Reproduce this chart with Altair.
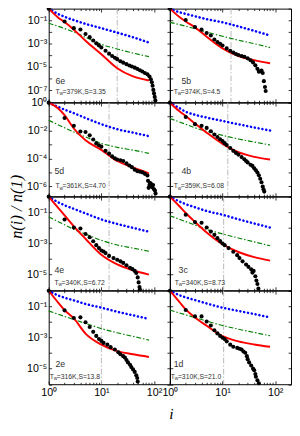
import altair as alt
import pandas as pd

# ---------------- data ----------------
names = ["6e", "5b", "5d", "4b", "4e", "3c", "2e", "1d"]
temps = ["379K", "374K", "361K", "359K", "340K", "340K", "316K", "310K"]
svals = ["3.35", "4.5", "4.70", "6.08", "6.72", "8.73", "13.8", "21.0"]
row_ymin = [1e-8, 2e-7, 1e-6, 1e-6]
row_label_exps = [[-1, -3, -5, -7], [0, -2, -4, -6], [-1, -3, -5], [-1, -3, -5]]
gray_i = [20, 14.5, 14, 12.6, 14, 10.5, 10, 10.5]

model_i = [1, 1.5, 2, 3, 5, 10, 20, 40, 80]
blue_exp = [
    [0, -0.45, -0.7, -0.98, -1.3, -1.67, -2.05, -2.45, -2.9],
    [0, -0.3, -0.45, -0.65, -0.9, -1.17, -1.52, -1.9, -2.3],
    [0, -0.3, -0.5, -0.75, -1.1, -1.54, -1.9, -2.15, -2.4],
    [0, -0.38, -0.65, -0.87, -1.07, -1.31, -1.55, -1.78, -2.0],
    [0, -0.35, -0.55, -0.78, -1.07, -1.46, -1.75, -2.0, -2.25],
    [0, -0.3, -0.48, -0.68, -0.92, -1.16, -1.45, -1.72, -1.98],
    [0, -0.3, -0.45, -0.62, -0.85, -1.09, -1.35, -1.58, -1.81],
    [0, -0.28, -0.43, -0.6, -0.82, -1.09, -1.3, -1.5, -1.71],
]
red_exp = [
    [0, -0.75, -1.15, -1.8, -2.75, -3.9, -5.1, -5.8, -6.15],
    [0, -0.7, -1.1, -1.6, -2.4, -3.4, -4.05, -4.4, -4.67],
    [0, -0.4, -0.9, -1.85, -2.7, -3.38, -4.18, -4.64, -5.06],
    [0, -0.6, -0.95, -1.5, -2.15, -2.95, -3.55, -3.88, -4.07],
    [0, -0.7, -1.2, -1.9, -2.7, -3.73, -4.35, -4.72, -5.0],
    [0, -0.6, -1.05, -1.62, -2.3, -3.05, -3.55, -3.88, -4.1],
    [0, -0.75, -1.25, -1.78, -2.75, -3.46, -3.88, -4.08, -4.25],
    [0, -0.7, -1.2, -1.72, -2.25, -2.92, -3.25, -3.45, -3.6],
]
green_i = [1, 2, 3, 5, 10, 20, 40, 80]
green_exp = [
    [-1.25, -1.7, -2.0, -2.45, -3.05, -3.45, -3.8, -4.1],
    [-1.17, -1.5, -1.72, -2.0, -2.36, -2.7, -3.0, -3.33],
    [-1.26, -1.8, -2.1, -2.45, -2.92, -3.2, -3.4, -3.63],
    [-1.13, -1.55, -1.8, -2.05, -2.34, -2.6, -2.82, -3.03],
    [-1.3, -1.8, -2.1, -2.4, -2.8, -3.1, -3.3, -3.5],
    [-1.22, -1.6, -1.82, -2.1, -2.39, -2.65, -2.9, -3.15],
    [-1.3, -1.65, -1.85, -2.1, -2.43, -2.7, -2.93, -3.17],
    [-1.24, -1.55, -1.72, -1.95, -2.23, -2.47, -2.68, -2.89],
]
data_i = [
    [1, 2, 3, 4, 5, 6, 7, 8, 9, 10, 12, 14, 16, 18, 20, 23, 26, 30, 34, 38, 43, 48, 54, 60, 67, 75, 82, 87, 91, 94, 97, 100, 103, 106],
    [1, 2, 3, 4, 5, 6, 7, 8, 9, 10, 12, 14, 16, 18, 20, 23, 26, 30, 34, 38, 42, 46, 49, 52, 55, 58, 61, 64, 66],
    [1, 2, 3, 4, 5, 6, 7, 8, 9, 10, 12, 14, 16, 18, 20, 23, 26, 30, 34, 38, 43, 48, 54, 60, 67, 75, 77, 79, 82, 84, 87, 90, 93, 96, 100, 104, 107],
    [1, 2, 3, 4, 5, 6, 7, 8, 9, 10, 11, 12, 14, 16, 18, 20, 23, 26, 28, 30, 34, 37, 40, 43, 46, 49, 52, 55, 58, 60, 62],
    [1, 2, 3, 4, 5, 6, 7, 8, 9, 10, 11, 12, 14, 17, 20, 23, 26, 30, 35, 39, 43, 46, 49, 51, 53, 54],
    [1, 2, 3, 4, 5, 6, 7, 8, 9, 10, 11, 13, 16, 19, 21, 24, 28, 31, 35, 37, 39, 42, 44, 46, 48],
    [1, 2, 3, 4, 5, 6, 7, 8, 9, 10, 11, 13, 15, 18, 21, 23, 26, 28, 30, 32, 35, 37, 40, 43, 46, 48, 49],
    [1, 2, 3, 4, 5, 6, 7, 8, 9, 10, 11, 12, 14, 16, 19, 21, 23, 25, 27, 29, 30, 32, 35, 38, 40, 42, 43, 46, 49],
]
data_exp = [
    [0, -1.1, -1.67, -1.78, -2.17, -2.44, -2.72, -2.97, -3.15, -3.33, -3.6, -3.85, -4.05, -4.2, -4.32, -4.5, -4.62, -4.75, -4.86, -4.95, -5.05, -5.15, -5.27, -5.38, -5.5, -5.62, -5.8, -6.05, -6.3, -6.6, -6.95, -7.25, -7.55, -7.85],
    [0, -0.97, -1.58, -1.8, -2.08, -2.3, -2.64, -2.85, -3.0, -3.15, -3.4, -3.6, -3.75, -3.88, -3.97, -4.05, -4.12, -4.25, -4.42, -4.6, -4.85, -5.15, -5.4, -5.35, -5.3, -5.5, -6.2, -6.7, -7.05],
    [0, -1.1, -1.66, -2.07, -2.1, -2.34, -2.64, -2.92, -3.05, -3.15, -3.45, -3.65, -3.85, -3.98, -4.07, -4.12, -4.18, -4.35, -4.5, -4.62, -4.8, -4.9, -4.95, -4.99, -5.1, -5.22, -5.6, -6.1, -5.9, -5.75, -5.8, -6.0, -6.05, -5.9, -6.2, -6.3, -6.5],
    [0, -1.03, -1.54, -1.66, -1.81, -2.05, -2.28, -2.46, -2.62, -2.75, -2.9, -3.03, -3.25, -3.45, -3.6, -3.72, -3.9, -4.05, -4.18, -4.28, -4.45, -4.53, -4.7, -4.85, -5.0, -5.2, -5.45, -5.7, -6.0, -6.2, -6.37],
    [0, -1.46, -1.98, -2.04, -2.39, -2.6, -2.86, -3.11, -3.3, -3.45, -3.52, -3.62, -3.8, -3.94, -4.05, -4.15, -4.25, -4.4, -4.56, -4.65, -4.76, -4.9, -5.18, -5.5, -5.8, -5.95],
    [0, -1.16, -1.63, -1.67, -1.98, -2.24, -2.45, -2.66, -2.85, -3.0, -3.11, -3.3, -3.53, -3.75, -3.94, -4.15, -4.35, -4.5, -4.66, -4.87, -4.76, -5.1, -5.38, -5.6, -5.9],
    [0, -1.26, -1.75, -1.71, -2.02, -2.33, -2.64, -2.9, -3.1, -3.22, -3.35, -3.46, -3.62, -3.77, -3.95, -4.08, -4.2, -4.29, -4.45, -4.6, -4.75, -4.9, -5.05, -5.21, -5.42, -5.6, -5.83],
    [0, -1.24, -1.65, -1.65, -1.98, -2.23, -2.54, -2.74, -2.9, -3.02, -3.1, -3.25, -3.46, -3.6, -3.67, -3.72, -3.77, -3.9, -3.98, -4.2, -4.39, -4.6, -4.8, -5.0, -5.1, -5.35, -5.52, -5.75, -5.94],
]
x_major = [1, 10, 100]
x_ticks = [1, 2, 3, 4, 5, 6, 7, 8, 9, 10, 20, 30, 40, 50, 60, 70, 80, 90, 100, 200]

# ---------------- style ----------------
W, H = 125, 96.5
# annotation placement inside each panel (name x, name y, T x, T y)
ann_pos = [(7, 78, 7, 88), (12, 78, 4, 88), (6, 74, 7, 88), (12, 74, 4, 88),
           (6, 79, 6, 91), (9, 79, 5, 91), (7, 79, 1, 91), (4, 79, 1, 91)]
SANS = "Liberation Sans"
SERIF = "Liberation Serif"

SUP = str.maketrans("-0123456789", "⁻⁰¹²³⁴⁵⁶⁷⁸⁹")


def sup10(e):
    return "10" + str(e).translate(SUP)


def lab_expr(exps):
    expr = "''"
    for e in exps:
        expr = f"abs(log(datum.value)/LN10 - ({e})) < 0.01 ? '{sup10(e)}' : {expr}"
    return expr


x_tick_size = {"condition": {"test": "indexof([1,10,100], datum.value) >= 0", "value": 3.5}, "value": 2}


def tick_axis(orient, offset, values, size):
    return alt.Axis(orient=orient, offset=offset, values=values, labels=False, domain=False,
                    grid=False, ticks=True, tickSize=size, tickColor="black", tickWidth=0.8,
                    title=None)


def panel(k, row, col):
    xs = alt.Scale(type="log", domain=[1, 200], nice=False)
    ys = alt.Scale(type="log", domain=[row_ymin[row], 1], nice=False)
    nd = {1e-8: 8, 2e-7: 6, 1e-6: 6}[row_ymin[row]]
    y_ticks = [10.0 ** (-j) for j in range(0, nd + 1)]

    if row == 3:
        xkw = dict(orient="bottom", values=x_major, labelExpr=lab_expr([0, 1, 2]), ticks=False,
                   domain=False, grid=False, labelFont=SANS, labelFontSize=11, labelPadding=3,
                   labelFlush=False, labelOverlap=False, labelColor="black")
        if col == 0:
            xkw.update(title="i", titleX=W + 1, titleY=35, titleFont=SERIF, titleFontStyle="italic",
                       titleFontWeight="normal", titleFontSize=16, titleBaseline="alphabetic",
                       titleColor="black")
        else:
            xkw.update(title=None)
        x_lab = alt.Axis(**xkw)
    else:
        x_lab = None
    if col == 0:
        ykw = dict(orient="left", values=y_ticks, labelExpr=lab_expr(row_label_exps[row]),
                   ticks=False, domain=False, grid=False, labelFont=SANS, labelFontSize=11,
                   labelPadding=2, labelOverlap=False, labelBaseline="middle", labelColor="black")
        if row == 1:
            ykw.update(title="n(i)   /   n(1)", titleX=-33, titleY=107, titleFont=SERIF,
                       titleFontStyle="italic", titleFontWeight="normal", titleFontSize=17,
                       titleAngle=270, titleBaseline="middle", titleAlign="center",
                       titleColor="black")
        else:
            ykw.update(title=None)
        y_lab = alt.Axis(**ykw)
    else:
        y_lab = None

    df_blue = pd.DataFrame({"i": model_i, "v": [10.0 ** e for e in blue_exp[k]]})
    df_red = pd.DataFrame({"i": model_i, "v": [10.0 ** e for e in red_exp[k]]})
    df_green = pd.DataFrame({"i": green_i, "v": [10.0 ** e for e in green_exp[k]]})
    df_pts = pd.DataFrame({"i": data_i[k], "v": [10.0 ** e for e in data_exp[k]]})
    df_rule = pd.DataFrame({"i": [gray_i[k]]})

    def enc(ax, ay):
        return dict(x=alt.X("i:Q", scale=xs, axis=ax), y=alt.Y("v:Q", scale=ys, axis=ay))

    rule = alt.Chart(df_rule).mark_rule(color="#b8b8b8", strokeWidth=1, strokeDash=[6, 2, 1.5, 2]).encode(
        x=alt.X("i:Q", scale=xs, axis=None))
    blue = alt.Chart(df_blue).mark_line(color="#0000ff", strokeWidth=2.6, strokeDash=[0.1, 3.9],
                                        strokeCap="round", interpolate="monotone").encode(**enc(x_lab, y_lab))
    green = alt.Chart(df_green).mark_line(color="#008000", strokeWidth=1.2, interpolate="monotone",
                                          strokeDash=[5, 2, 1.5, 2]).encode(**enc(None, None))
    red = alt.Chart(df_red).mark_line(color="#ff0000", strokeWidth=2, interpolate="monotone").encode(
        **enc(None, None))
    pts = alt.Chart(df_pts).mark_circle(size=18, color="black", opacity=1).encode(**enc(None, None))
    tA = alt.Chart(df_pts).mark_point(opacity=0).encode(
        **enc(tick_axis("top", -H, x_ticks, x_tick_size), tick_axis("right", -W, y_ticks, 3)))
    tB = alt.Chart(df_pts).mark_point(opacity=0).encode(
        **enc(tick_axis("bottom", -H, x_ticks, x_tick_size), tick_axis("left", -W, y_ticks, 3)))

    nx, ny, tx, ty = ann_pos[k]

    def txt(s, x, y, size):
        return alt.Chart(pd.DataFrame({"t": [s]})).mark_text(
            align="left", baseline="alphabetic", font=SANS, fontSize=size, color="#333333").encode(
            text="t:N", x=alt.value(x), y=alt.value(y))

    texts = [txt(names[k], nx, ny, 9), txt("T", tx, ty, 7), txt("w", tx + 4.1, ty + 1.6, 5),
             txt(f"={temps[k]},S={svals[k]}", tx + 7.3, ty, 7)]

    return alt.layer(rule, blue, green, red, pts, tA, tB, *texts).resolve_axis(
        x="independent", y="independent").properties(width=W, height=H)


panels = [panel(k, k // 2, k % 2) for k in range(8)]

chart = alt.concat(*panels, columns=2, spacing=0, bounds="flush").configure_view(
    stroke="black", strokeWidth=1).properties(
    padding={"left": -1, "top": -13, "right": 0, "bottom": 0})

chart.save("out.html", embed_options={"renderer": "svg", "actions": False})
